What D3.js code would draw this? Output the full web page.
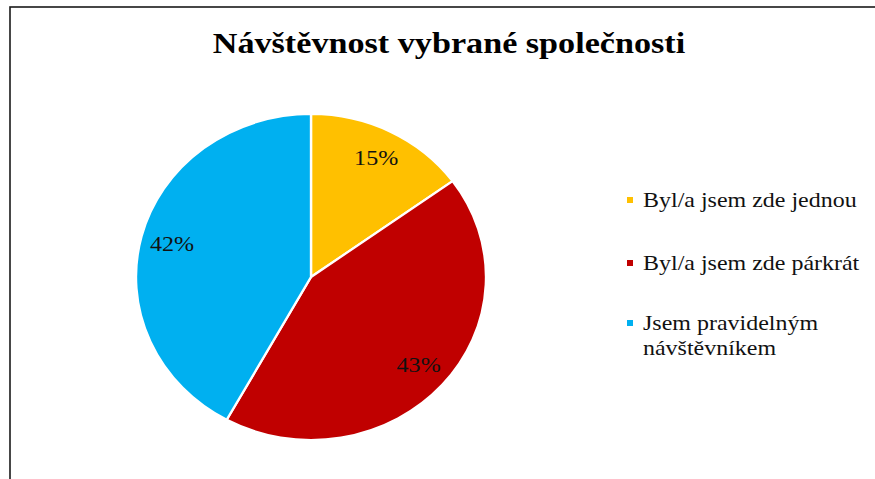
<!DOCTYPE html>
<html>
<head>
<meta charset="utf-8">
<script src="https://cdn.jsdelivr.net/npm/d3@7"></script>
<style>
  html, body { margin: 0; padding: 0; background: #fff; }
  svg { display: block; }
  .serif { font-family: "Liberation Serif", "Times New Roman", serif; }
</style>
</head>
<body>
<svg id="chart" width="875" height="479"></svg>
<script>
// Návštěvnost vybrané společnosti – podíl odpovědí
const categories = ["Byl/a jsem zde jednou", "Byl/a jsem zde párkrát", "Jsem pravidelným návštěvníkem"];
const legendLines = [["Byl/a jsem zde jednou"], ["Byl/a jsem zde párkrát"], ["Jsem pravidelným", "návštěvníkem"]];
const values = [15, 43, 42];
const colors = ["#FFC000", "#C00000", "#00B0F0"];
const title = "Návštěvnost vybrané společnosti";

const svg = d3.select("#chart");
const W = 875, H = 479;
const sx = 1.12; // the whole chart is drawn slightly wider than tall

// text placed at (x, y) and stretched horizontally like the rest of the chart
function stretchedText(parent, x, y) {
  return parent.append("text")
    .attr("class", "serif")
    .attr("transform", `translate(${x},${y}) scale(${sx},1)`);
}

svg.append("rect").attr("width", W).attr("height", H).attr("fill", "#fff");

// chart frame (runs off the right and bottom edges)
svg.append("rect")
  .attr("x", 10).attr("y", 7)
  .attr("width", W + 20).attr("height", H + 20)
  .attr("fill", "none").attr("stroke", "#1a1a1a").attr("stroke-width", 1.6);

stretchedText(svg, 449, 53)
  .attr("text-anchor", "middle")
  .attr("font-weight", "bold")
  .attr("font-size", 30.5).attr("fill", "#000")
  .text(title);

// pie
const cx = 311, cy = 277, ry = 163, rx = 175;
const pie = d3.pie().sort(null).value(d => d)(values);
const arc = d3.arc().innerRadius(0).outerRadius(ry);

const g = svg.append("g").attr("transform", `translate(${cx},${cy}) scale(${rx / ry},1)`);
g.selectAll("path").data(pie).join("path")
  .attr("d", arc)
  .attr("fill", (d, i) => colors[i])
  .attr("stroke", "#fff").attr("stroke-width", 2.2)
  .attr("stroke-linejoin", "round");

const total = d3.sum(values);
const labelArc = d3.arc().innerRadius(ry * 0.82).outerRadius(ry * 0.82);
const labels = svg.append("g");
pie.forEach(d => {
  const [lx, ly] = labelArc.centroid(d);
  stretchedText(labels, cx + lx * rx / ry, cy + ly + 7)
    .attr("text-anchor", "middle")
    .attr("font-size", 21.5).attr("fill", "#111")
    .text(Math.round(d.value / total * 100) + "%");
});

// legend
const legend = svg.append("g");
const entryY = [207, 270, 330];
legendLines.forEach((lines, i) => {
  legend.append("rect")
    .attr("x", 627).attr("y", entryY[i] - 10)
    .attr("width", 6).attr("height", 6)
    .attr("fill", colors[i]);
  lines.forEach((ln, j) => {
    stretchedText(legend, 643, entryY[i] + j * 25)
      .attr("font-size", 21.4).attr("fill", "#111")
      .text(ln);
  });
});
</script>
</body>
</html>
